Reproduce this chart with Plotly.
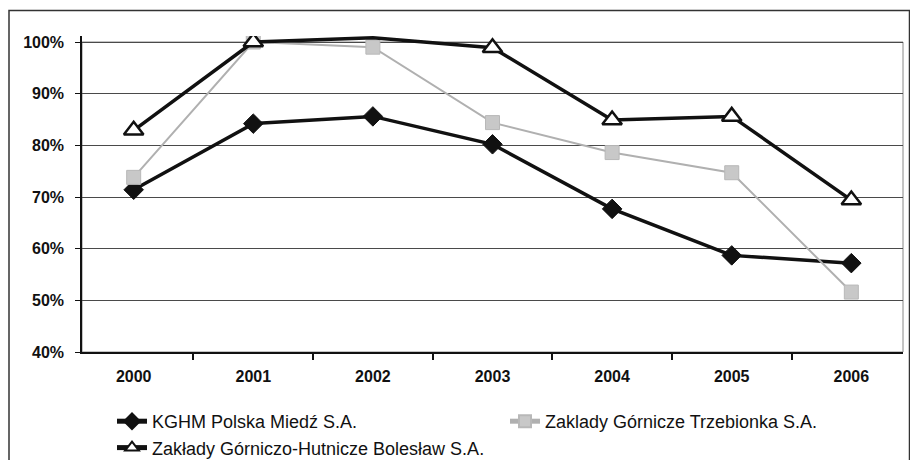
import plotly.graph_objects as go

# Share of something per year, for three mining companies
years = ["2000", "2001", "2002", "2003", "2004", "2005", "2006"]
kghm = [0.714, 0.842, 0.856, 0.802, 0.677, 0.587, 0.572]
trzebionka = [0.738, 1.000, 0.990, 0.844, 0.786, 0.747, 0.516]
boleslaw = [0.829, 1.000, 1.008, 0.989, 0.849, 0.856, 0.694]

y_ticks = [0.4, 0.5, 0.6, 0.7, 0.8, 0.9, 1.0]
y_min, y_max = 0.4, 1.0

W, H = 910, 460
L, R, B = 82, 7, 108
top_px = 42                      # pixel row of the 100% line
head_px = 6                      # room above 100% so overshooting lines stay visible
T = top_px - head_px
pw, ph = W - L - R, H - T - B
px_per_unit = (H - B - top_px) / (y_max - y_min)
y_top = y_max + head_px / px_per_unit


def px_to_paper_x(px):
    return (px - L) / pw


def px_to_paper_y(py):
    return (H - B - py) / ph


def visible_sizes(values, size):
    # markers above the axis maximum are not drawn
    return [size if v <= y_max + 1e-9 else 0 for v in values]


fig = go.Figure()

fig.add_trace(go.Scatter(
    x=years, y=kghm, name="KGHM Polska Miedź S.A.",
    mode="lines+markers",
    line=dict(color="#111111", width=3.5),
    marker=dict(symbol="diamond", size=visible_sizes(kghm, 15), color="#111111",
                opacity=1, line=dict(color="#111111", width=1)),
))
fig.add_trace(go.Scatter(
    x=years, y=trzebionka, name="Zaklady Górnicze Trzebionka S.A.",
    mode="lines+markers",
    line=dict(color="#b0b0b0", width=2),
    marker=dict(symbol="square", size=visible_sizes(trzebionka, 14), color="#c8c8c8",
                opacity=1, line=dict(color="#b8b8b8", width=1)),
))
fig.add_trace(go.Scatter(
    x=years, y=boleslaw, name="Zakłady Górniczo-Hutnicze Bolesław S.A.",
    mode="lines+markers",
    line=dict(color="#111111", width=3.5),
    marker=dict(symbol="triangle-up", size=visible_sizes(boleslaw, 17), color="white",
                opacity=1, line=dict(color="#111111", width=2.5)),
))

# outer frame of the chart
fig.add_shape(type="rect", xref="paper", yref="paper",
              x0=px_to_paper_x(9), x1=px_to_paper_x(909.5),
              y0=px_to_paper_y(H + 10), y1=px_to_paper_y(10.5),
              line=dict(color="#333333", width=1.5), layer="below")
# plot area border, topped by the 100% line
fig.add_shape(type="rect", xref="paper", yref="y", x0=0, x1=1, y0=y_min, y1=y_max,
              line=dict(color="#888888", width=1), layer="below")

fig.update_layout(
    width=W, height=H,
    margin=dict(l=L, r=R, t=T, b=B),
    paper_bgcolor="white", plot_bgcolor="white",
    font=dict(family="Liberation Sans, Arial, sans-serif", color="#111111"),
    showlegend=True,
    legend=dict(
        orientation="h", xref="container", yref="container",
        x=112 / W, y=1 - 403 / H, xanchor="left", yanchor="top",
        font=dict(size=18, color="#111111"),
        entrywidth=348, entrywidthmode="pixels",
        itemsizing="constant",
        bgcolor="rgba(0,0,0,0)", tracegroupgap=0,
    ),
)

fig.update_xaxes(
    type="category", tickson="boundaries", ticks="outside", ticklen=6,
    tickcolor="#111111", tickwidth=1.5,
    showline=True, linecolor="#111111", linewidth=2,
    showgrid=False, zeroline=False,
    tickfont=dict(size=16, family="Liberation Sans, Arial, sans-serif", weight="bold"),
    ticklabelstandoff=9,
)
fig.update_yaxes(
    range=[y_min, y_top], tickvals=y_ticks, tickformat=".0%",
    ticks="outside", ticklen=5, tickcolor="#111111", tickwidth=1,
    showline=True, linecolor="#111111", linewidth=1.5,
    showgrid=True, gridcolor="#4a4a4a", gridwidth=1, zeroline=False,
    tickfont=dict(size=16, family="Liberation Sans, Arial, sans-serif", weight="bold"),
    ticklabelstandoff=8,
)

fig.write_html("out.html")
